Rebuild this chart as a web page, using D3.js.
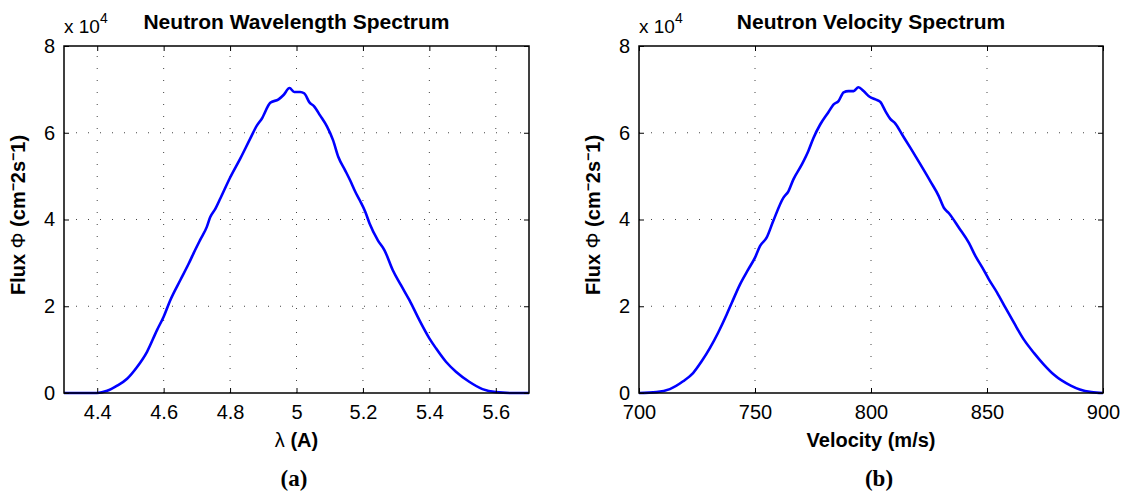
<!DOCTYPE html>
<html>
<head>
<script src="https://cdnjs.cloudflare.com/ajax/libs/d3/7.8.5/d3.min.js"></script>
<meta charset="utf-8">
<title>Neutron spectra</title>
<style>
  body { margin: 0; background: #fff; }
  .tick line { stroke: #000; }
</style>
</head>
<body>
<script type="text/javascript">

// data (flux in units of 10^4 cm^-2 s^-1)
var wavelength = [4.30, 4.35, 4.40, 4.43, 4.46, 4.49, 4.52, 4.55, 4.58, 4.60, 4.62, 4.65, 4.676, 4.69, 4.71, 4.73, 4.74, 4.756,
  4.771, 4.801, 4.831, 4.861, 4.881, 4.896, 4.921, 4.946, 4.961, 4.979, 4.993, 5.011, 5.023, 5.039, 5.053, 5.071,
  5.092, 5.110, 5.126, 5.146, 5.161, 5.177, 5.19, 5.207, 5.22, 5.245, 5.265, 5.29, 5.315, 5.34, 5.37, 5.40, 5.42,
  5.45, 5.48, 5.52, 5.56, 5.60, 5.65, 5.70];
var fluxWavelength = [0, 0, 0, 0.05, 0.17, 0.33, 0.60, 0.95, 1.45, 1.76, 2.14, 2.60, 2.99, 3.22, 3.53, 3.83, 4.05, 4.25,
  4.49, 4.98, 5.41, 5.87, 6.17, 6.33, 6.69, 6.77, 6.87, 7.03, 6.94, 6.94, 6.91, 6.70, 6.61, 6.40,
  6.14, 5.83, 5.44, 5.14, 4.91, 4.64, 4.45, 4.18, 3.91, 3.52, 3.29, 2.83, 2.48, 2.14, 1.68, 1.26, 1.03,
  0.72, 0.49, 0.26, 0.09, 0.02, 0, 0];

var velocity = [700, 707.5, 713.3, 719, 723.3, 727, 730.6, 734.1, 737.8, 740, 743.5, 747.1, 750, 752.2, 755, 757.9,
  762.2, 764.4, 766.5, 770.2, 773, 775.2, 778.1, 781.7, 783.8, 786, 788.2, 790.3, 792.5, 794.6, 796.8, 799.4,
  801.9, 804, 806.2, 808.3, 810.5, 813.4, 817, 821.3, 825.6, 829.2, 831.4, 833.5, 837.9, 842.2, 845.1, 848,
  850.8, 854.4, 858, 861.6, 865.9, 870.3, 874.6, 878.9, 886.1, 890, 895, 900];
var fluxVelocity = [0, 0.02, 0.09, 0.27, 0.46, 0.73, 1.04, 1.39, 1.81, 2.08, 2.50, 2.85, 3.12, 3.39, 3.58, 3.97,
  4.50, 4.65, 4.92, 5.27, 5.58, 5.88, 6.19, 6.48, 6.65, 6.73, 6.93, 6.96, 6.96, 7.05, 6.96, 6.83,
  6.77, 6.71, 6.50, 6.32, 6.21, 5.96, 5.65, 5.27, 4.88, 4.54, 4.27, 4.15, 3.81, 3.46, 3.15, 2.89,
  2.62, 2.31, 1.96, 1.62, 1.23, 0.92, 0.65, 0.42, 0.17, 0.08, 0.02, 0];

var fluxTicks = [0, 2, 4, 6, 8];
var wavelengthTicks = [4.4, 4.6, 4.8, 5.0, 5.2, 5.4, 5.6];
var velocityTicks = [700, 750, 800, 850, 900];

var w = 1129;
var h = 495;
var top_ = 46, bottom = 393;
var fontFamily = "'Liberation Sans', Arial, sans-serif";

var svg = d3.select("body")
  .append("svg")
  .attr("width", w)
  .attr("height", h);

svg.append("rect").attr("width", w).attr("height", h).attr("fill", "#fff");

function drawPanel(p) {
  var x = d3.scaleLinear().domain(p.xDomain).range([p.left, p.right]);
  var y = d3.scaleLinear().domain([0, 8]).range([bottom, top_]);
  var g = svg.append("g");

  // dotted grid
  g.selectAll(".vgrid")
    .data(p.xTicks.filter(function(d) { return d > p.xDomain[0] && d < p.xDomain[1]; }))
    .enter().append("line")
    .attr("x1", function(d) { return x(d); })
    .attr("x2", function(d) { return x(d); })
    .attr("y1", bottom).attr("y2", top_)
    .attr("stroke", "#444").attr("stroke-width", 1)
    .attr("stroke-dasharray", "1,11");
  g.selectAll(".hgrid")
    .data(fluxTicks.slice(1, -1))
    .enter().append("line")
    .attr("x1", p.left).attr("x2", p.right)
    .attr("y1", function(d) { return y(d); })
    .attr("y2", function(d) { return y(d); })
    .attr("stroke", "#444").attr("stroke-width", 1)
    .attr("stroke-dasharray", "1,11");

  // curve
  var line = d3.line()
    .x(function(d) { return x(d[0]); })
    .y(function(d) { return y(d[1]); })
    .curve(d3.curveMonotoneX);
  g.append("path")
    .datum(d3.zip(p.xs, p.ys))
    .attr("d", line)
    .attr("fill", "none")
    .attr("stroke", "#0000ff")
    .attr("stroke-width", 2.6);

  // axes with inward ticks on all four sides
  g.append("g").attr("transform", "translate(0," + bottom + ")")
    .call(d3.axisBottom(x).tickValues(p.xTicks).tickSizeInner(-5).tickSizeOuter(0).tickPadding(12)
      .tickFormat(function(d) { return String(+d.toFixed(1)); }));
  g.append("g").attr("transform", "translate(0," + top_ + ")")
    .call(d3.axisTop(x).tickValues(p.xTicks).tickSizeInner(-5).tickSizeOuter(0).tickFormat(""));
  g.append("g").attr("transform", "translate(" + p.left + ",0)")
    .call(d3.axisLeft(y).tickValues(fluxTicks).tickSizeInner(-5).tickSizeOuter(0).tickPadding(9));
  g.append("g").attr("transform", "translate(" + p.right + ",0)")
    .call(d3.axisRight(y).tickValues(fluxTicks).tickSizeInner(-5).tickSizeOuter(0).tickFormat(""));
  g.selectAll(".domain").remove();
  g.selectAll(".tick text")
    .attr("font-family", fontFamily)
    .attr("font-size", "20px")
    .attr("fill", "#000");

  g.append("rect")
    .attr("x", p.left).attr("y", top_)
    .attr("width", p.right - p.left).attr("height", bottom - top_)
    .attr("fill", "none").attr("stroke", "#000").attr("stroke-width", 1.5);

  var cx = (p.left + p.right) / 2;

  // exponent label
  var ex = g.append("text")
    .attr("x", p.left).attr("y", 33)
    .attr("font-family", fontFamily).attr("font-size", "19px");
  ex.append("tspan").text("x 10");
  ex.append("tspan").attr("dy", -10).attr("font-size", "14px").text("4");

  // title
  g.append("text")
    .attr("x", cx).attr("y", 28.5)
    .attr("text-anchor", "middle")
    .attr("font-family", fontFamily).attr("font-size", "21px").attr("font-weight", "bold")
    .text(p.title);

  // x label
  var xl = g.append("text")
    .attr("x", cx).attr("y", 447)
    .attr("text-anchor", "middle")
    .attr("font-family", fontFamily).attr("font-size", "20px").attr("font-weight", "bold");
  p.xLabel.forEach(function(s) {
    xl.append("tspan").attr("font-weight", s[1] ? "bold" : "normal").text(s[0]);
  });

  // y label
  var yl = g.append("text")
    .attr("transform", "translate(" + (p.left - 39) + ",215) rotate(-90)")
    .attr("text-anchor", "middle")
    .attr("font-family", fontFamily).attr("font-size", "20px").attr("font-weight", "bold");
  yl.append("tspan").text("Flux ");
  yl.append("tspan").attr("font-weight", "normal").text("\u03A6");
  yl.append("tspan").text(" (cm");
  yl.append("tspan").attr("dy", -7).attr("font-size", "14px").text("\u2212");
  yl.append("tspan").attr("dy", 7).text("2s");
  yl.append("tspan").attr("dy", -7).attr("font-size", "14px").text("\u2212");
  yl.append("tspan").attr("dy", 7).text("1)");

  // caption
  g.append("text")
    .attr("x", p.captionX).attr("y", 486)
    .attr("text-anchor", "middle")
    .attr("font-family", "'Liberation Serif', 'DejaVu Serif', serif")
    .attr("font-size", "23px").attr("font-weight", "bold")
    .text(p.caption);
}

drawPanel({
  left: 64, right: 529,
  xDomain: [4.3, 5.7], xTicks: wavelengthTicks,
  xs: wavelength, ys: fluxWavelength,
  title: "Neutron Wavelength Spectrum",
  xLabel: [["\u03BB ", false], ["(A)", true]],
  caption: "(a)", captionX: 294
});

drawPanel({
  left: 639, right: 1103,
  xDomain: [700, 900], xTicks: velocityTicks,
  xs: velocity, ys: fluxVelocity,
  title: "Neutron Velocity Spectrum",
  xLabel: [["Velocity (m/s)", true]],
  caption: "(b)", captionX: 879
});
</script>
</body>
</html>
